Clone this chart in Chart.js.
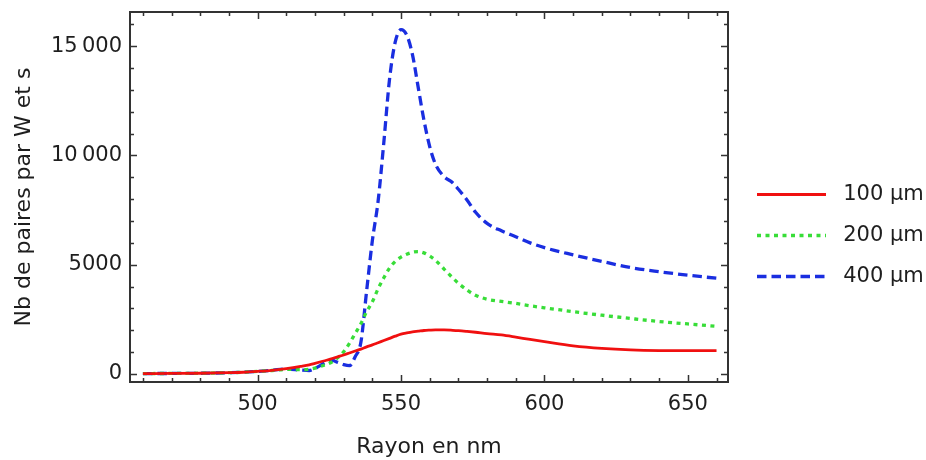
<!DOCTYPE html>
<html>
<head>
<meta charset="utf-8">
<script src="https://cdn.jsdelivr.net/npm/chart.js@4/dist/chart.umd.min.js"></script>
<style>
  html, body { margin: 0; padding: 0; background: #ffffff; }
  #c { display: block; }
</style>
</head>
<body>
<canvas id="c" width="926" height="460" style="width:926px;height:460px"></canvas>
<script>
// ---- Data ----
const wavelengths = [460, 470, 480, 490, 495, 500, 505, 510, 515, 518, 520, 522, 524, 526, 528, 530, 532, 534, 536, 538, 540, 542, 544, 546, 548, 550, 552, 554, 556, 558, 560, 562, 565, 568, 570, 573, 576, 580, 585, 590, 595, 600, 610, 620, 630, 640, 650, 660];
const series100 = [20, 25, 35, 60, 80, 120, 170, 250, 350, 420, 490, 560, 630, 710, 790, 870, 960, 1050, 1140, 1240, 1330, 1430, 1530, 1630, 1730, 1820, 1880, 1930, 1960, 1990, 2005, 2015, 2015, 2000, 1985, 1950, 1910, 1850, 1790, 1690, 1580, 1480, 1290, 1170, 1100, 1070, 1065, 1065];
const series200 = [20, 25, 35, 60, 80, 120, 160, 210, 200, 220, 270, 350, 440, 560, 750, 1020, 1400, 1850, 2300, 2850, 3300, 3900, 4400, 4850, 5150, 5350, 5480, 5570, 5600, 5540, 5400, 5200, 4800, 4400, 4150, 3840, 3600, 3420, 3320, 3230, 3120, 3030, 2850, 2690, 2540, 2400, 2290, 2180];
const series400 = [20, 25, 35, 60, 80, 120, 170, 230, 180, 160, 250, 400, 560, 620, 530, 430, 380, 790, 1450, 3800, 6100, 7900, 10600, 13500, 15200, 15750, 15500, 14600, 13100, 11600, 10400, 9600, 9030, 8750, 8450, 7960, 7400, 6890, 6550, 6280, 6000, 5780, 5450, 5150, 4870, 4680, 4520, 4380];
const seriesLabels = ['100 µm', '200 µm', '400 µm'];

// ---- Ticks ----
const xTickValues = [460, 470, 480, 490, 500, 510, 520, 530, 540, 550, 560, 570, 580, 590, 600, 610, 620, 630, 640, 650, 660];
const xLabelValues = [500, 550, 600, 650];
const xLabels = ['500', '550', '600', '650'];
const yTickValues = [0, 1000, 2000, 3000, 4000, 5000, 6000, 7000, 8000, 9000, 10000, 11000, 12000, 13000, 14000, 15000, 16000];
const yLabelValues = [0, 5000, 10000, 15000];
const yLabels = ['0', '5000', '10\u2009000', '15\u2009000'];
const xRange = [455.5, 664];
const yRange = [-366, 16560];

const pts = arr => wavelengths.map((w, i) => ({ x: w, y: arr[i] }));
const FONT = "'DejaVu Sans', 'Liberation Sans', sans-serif";
const TXT = '#1e1e1e';
const FRAME = '#333333';

const frameTicks = {
  id: 'frameTicks',
  afterDatasetsDraw(chart) {
    const { ctx, chartArea: a, scales } = chart;
    const x = scales.x, y = scales.y;
    ctx.save();
    ctx.strokeStyle = FRAME;
    ctx.lineWidth = 1.5;
    ctx.beginPath();
    x.ticks.forEach(t => {
      const px = Math.round(x.getPixelForValue(t.value)) + 0.5;
      const len = xLabelValues.includes(t.value) ? 7 : 4;
      ctx.moveTo(px, a.bottom); ctx.lineTo(px, a.bottom - len);
      ctx.moveTo(px, a.top); ctx.lineTo(px, a.top + len);
    });
    y.ticks.forEach(t => {
      const py = Math.round(y.getPixelForValue(t.value)) + 0.5;
      const len = yLabelValues.includes(t.value) ? 7 : 4;
      ctx.moveTo(a.left, py); ctx.lineTo(a.left + len, py);
      ctx.moveTo(a.right, py); ctx.lineTo(a.right - len, py);
    });
    ctx.stroke();
    ctx.lineWidth = 2;
    ctx.strokeRect(a.left, a.top, a.right - a.left, a.bottom - a.top);
    ctx.restore();
  }
};

const labelFor = (values, labels) => v => {
  const i = values.indexOf(v);
  return i >= 0 ? labels[i] : '';
};

new Chart(document.getElementById('c'), {
  type: 'line',
  data: {
    datasets: [
      { label: seriesLabels[0], data: pts(series100), borderColor: '#f01010', backgroundColor: '#f01010', borderWidth: 2.8, borderDash: [], pointRadius: 0, cubicInterpolationMode: 'monotone', fill: false },
      { label: seriesLabels[1], data: pts(series200), borderColor: '#38dd38', backgroundColor: '#38dd38', borderWidth: 3.3, borderDash: [4, 4.5], pointRadius: 0, cubicInterpolationMode: 'monotone', fill: false },
      { label: seriesLabels[2], data: pts(series400), borderColor: '#1a2ee0', backgroundColor: '#1a2ee0', borderWidth: 3.3, borderDash: [9.5, 5], pointRadius: 0, cubicInterpolationMode: 'monotone', fill: false }
    ]
  },
  options: {
    responsive: false,
    animation: false,
    devicePixelRatio: 1,
    layout: { padding: { left: 5, right: 0, top: 12, bottom: 1 } },
    plugins: {
      tooltip: { enabled: false },
      legend: {
        position: 'right',
        maxWidth: 189,
        labels: {
          usePointStyle: true,
          pointStyle: 'line',
          pointStyleWidth: 69,
          padding: 20,
          color: TXT,
          font: { family: FONT, size: 21 },
          generateLabels(chart) {
            const items = Chart.defaults.plugins.legend.labels.generateLabels(chart);
            items.forEach(it => {
              const ds = chart.data.datasets[it.datasetIndex];
              it.text = ' ' + it.text;
              it.pointStyle = 'line';
              it.lineDash = ds.borderDash;
              it.lineWidth = ds.borderWidth;
              it.strokeStyle = ds.borderColor;
              it.fillStyle = ds.borderColor;
            });
            return items;
          }
        }
      }
    },
    scales: {
      x: {
        type: 'linear',
        min: xRange[0],
        max: xRange[1],
        grid: { display: false, drawTicks: false },
        border: { display: false },
        afterBuildTicks(scale) { scale.ticks = xTickValues.map(v => ({ value: v })); },
        ticks: {
          autoSkip: false,
          maxRotation: 0,
          padding: 9.5,
          color: TXT,
          font: { family: FONT, size: 21 },
          callback: labelFor(xLabelValues, xLabels)
        },
        title: {
          display: true,
          text: 'Rayon en nm',
          color: TXT,
          font: { family: FONT, size: 22, lineHeight: 0.8 },
          padding: { top: 0, bottom: 2.5 }
        },
        afterFit(scale) { scale.height = 77; scale.paddingLeft = 0; scale.paddingRight = 0; }
      },
      y: {
        type: 'linear',
        min: yRange[0],
        max: yRange[1],
        grid: { display: false, drawTicks: false },
        border: { display: false },
        afterBuildTicks(scale) { scale.ticks = yTickValues.map(v => ({ value: v })); },
        ticks: {
          autoSkip: false,
          padding: 8,
          color: TXT,
          font: { family: FONT, size: 21 },
          callback: labelFor(yLabelValues, yLabels)
        },
        title: {
          display: true,
          text: 'Nb de paires par W et s',
          color: TXT,
          font: { family: FONT, size: 22 },
          padding: { top: 6, bottom: 0 }
        },
        afterFit(scale) { scale.width = 125; scale.paddingTop = 0; scale.paddingBottom = 0; }
      },
      y2: {
        type: 'linear',
        position: 'right',
        display: true,
        grid: { display: false, drawTicks: false },
        border: { display: false },
        ticks: { display: false },
        afterFit(scale) { scale.width = 9; scale.paddingTop = 0; scale.paddingBottom = 0; }
      }
    }
  },
  plugins: [frameTicks]
});
</script>
</body>
</html>
